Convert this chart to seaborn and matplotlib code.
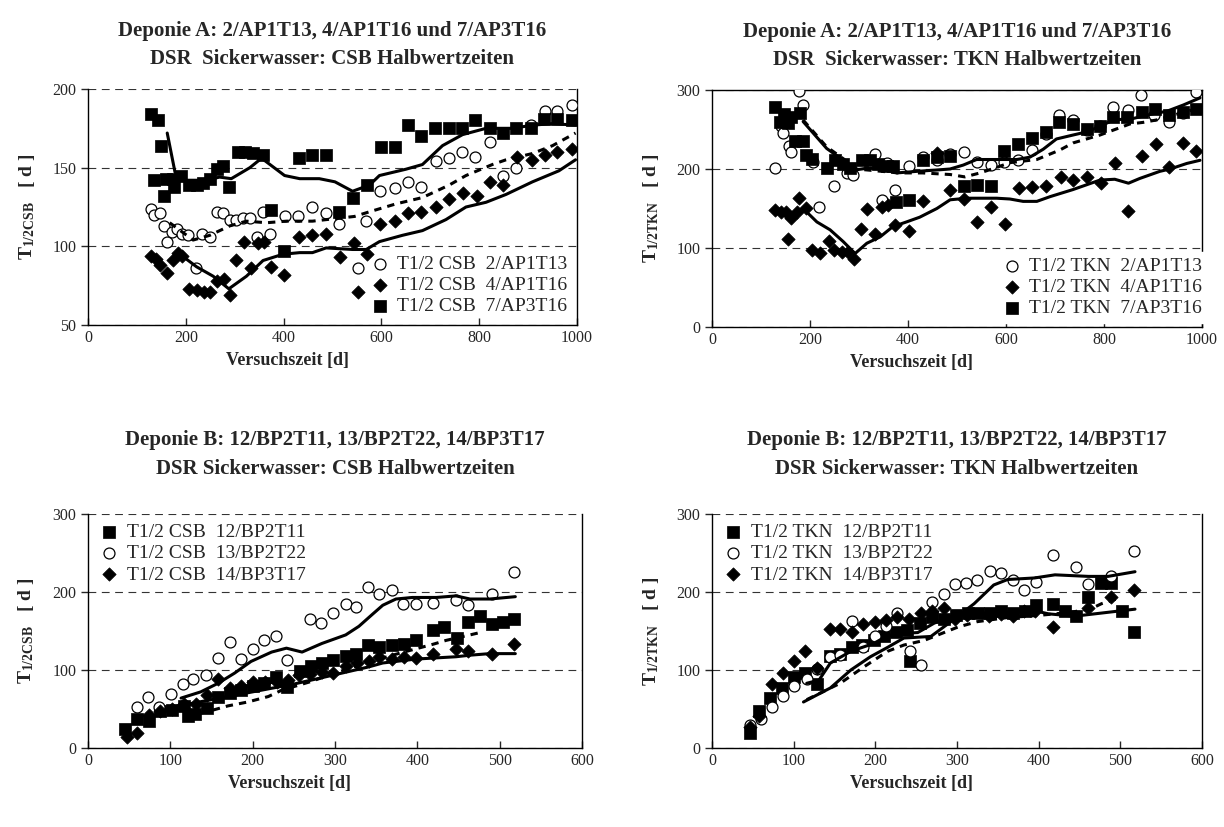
import seaborn as sns
from matplotlib import pyplot as plt
import pandas as pd

# ---- Deponie A, CSB
a_csb_x_2 = [128, 135, 148, 155, 162, 171, 182, 193, 205, 220, 234, 249, 263, 276, 290, 303, 317, 332, 346, 358, 373, 402, 429, 459, 486, 514, 552, 569, 597, 627, 654, 681, 711, 738, 765, 792, 822, 849, 876, 905, 935, 960, 989]
a_csb_y_2 = [124, 120, 121, 113, 103, 109, 111, 108, 107, 86, 108, 106, 122, 121, 117, 117, 118, 118, 106, 122, 108, 119, 119, 125, 121, 114, 86, 116, 135, 137, 141, 138, 154, 156, 160, 157, 166, 145, 150, 177, 186, 186, 190]
a_csb_x_4 = [128, 140, 148, 162, 174, 184, 193, 207, 222, 237, 250, 264, 278, 290, 303, 318, 334, 348, 359, 375, 400, 431, 459, 486, 516, 543, 552, 570, 597, 627, 654, 681, 711, 738, 766, 795, 822, 849, 878, 907, 935, 960, 989]
a_csb_y_4 = [94, 92, 88, 83, 91, 96, 94, 73, 72, 71, 71, 78, 79, 69, 91, 103, 86, 102, 103, 87, 82, 106, 107, 108, 93, 102, 71, 95, 114, 116, 121, 122, 125, 130, 134, 132, 141, 139, 157, 155, 158, 160, 162]
a_csb_x_7 = [128, 143, 149, 135, 160, 174, 190, 155, 176, 207, 222, 235, 249, 263, 276, 288, 307, 322, 337, 358, 375, 400, 431, 459, 486, 514, 541, 570, 599, 627, 654, 681, 710, 738, 765, 792, 822, 849, 876, 905, 933, 960, 989]
a_csb_y_7 = [184, 180, 164, 142, 143, 143, 145, 132, 138, 139, 139, 140, 143, 149, 151, 138, 160, 160, 159, 158, 123, 97, 156, 158, 158, 122, 131, 139, 163, 163, 177, 170, 175, 175, 175, 180, 175, 172, 175, 175, 181, 181, 180]
a_csb_lx_7 = [162, 178, 191, 215, 242, 269, 293, 331, 355, 402, 433, 473, 505, 541, 576, 596, 650, 684, 725, 766, 814, 868, 909, 950, 997]
a_csb_ly_7 = [172, 147, 142, 142, 142, 144, 143, 150, 156, 145, 143, 143, 141, 135, 139, 145, 149, 152, 164, 171, 175, 175, 177, 178, 177]
a_csb_lx_2 = [167, 215, 249, 290, 324, 365, 406, 459, 545, 576, 630, 684, 739, 773, 827, 855, 909, 950, 997]
a_csb_ly_2 = [115, 104, 107, 113, 116, 115, 116, 116, 119, 122, 127, 131, 139, 145, 152, 155, 159, 164, 172]
a_csb_lx_4 = [188, 222, 256, 288, 324, 358, 399, 433, 459, 487, 541, 569, 596, 643, 684, 732, 773, 814, 855, 909, 963, 997]
a_csb_ly_4 = [95, 87, 81, 73, 81, 91, 95, 96, 96, 99, 98, 98, 103, 107, 110, 117, 125, 128, 133, 141, 148, 155]

# ---- Deponie A, TKN
a_tkn_x_2 = [129, 140, 144, 157, 162, 178, 185, 207, 219, 249, 275, 288, 333, 346, 358, 373, 403, 431, 459, 486, 514, 540, 569, 596, 625, 654, 682, 709, 737, 765, 792, 819, 850, 875, 902, 933, 961, 988]
a_tkn_y_2 = [201, 254, 245, 229, 222, 299, 281, 209, 152, 178, 195, 192, 219, 161, 208, 174, 204, 215, 212, 219, 221, 209, 205, 209, 211, 224, 244, 268, 262, 249, 254, 279, 275, 294, 268, 259, 271, 298]
a_tkn_x_4 = [129, 140, 151, 156, 162, 174, 178, 192, 205, 220, 238, 249, 265, 278, 290, 304, 317, 333, 346, 360, 373, 403, 431, 459, 486, 514, 541, 569, 598, 627, 654, 682, 712, 737, 766, 793, 822, 850, 877, 906, 933, 962, 988]
a_tkn_y_4 = [148, 146, 145, 111, 138, 146, 163, 150, 97, 94, 109, 98, 95, 95, 86, 124, 149, 118, 152, 154, 129, 122, 160, 220, 173, 162, 133, 152, 130, 176, 177, 178, 190, 186, 190, 182, 208, 147, 216, 232, 202, 233, 223]
a_tkn_x_7 = [129, 139, 147, 156, 161, 169, 180, 185, 192, 205, 234, 251, 267, 282, 306, 322, 339, 358, 370, 376, 403, 431, 459, 486, 514, 541, 569, 596, 625, 654, 682, 709, 737, 765, 792, 819, 848, 877, 904, 933, 961, 988]
a_tkn_y_7 = [279, 260, 270, 258, 266, 235, 271, 235, 218, 213, 201, 211, 206, 201, 211, 211, 206, 204, 204, 158, 161, 212, 215, 216, 178, 180, 178, 223, 231, 239, 247, 260, 257, 251, 254, 266, 266, 272, 276, 268, 272, 276]
a_tkn_lx_2 = [186, 234, 268, 295, 316, 356, 377, 418, 465, 486, 513, 540, 567, 594, 622, 649, 676, 703, 737, 765, 792, 819, 860, 901, 928, 962, 996]
a_tkn_ly_2 = [260, 226, 211, 199, 201, 200, 195, 197, 199, 200, 205, 212, 212, 212, 212, 215, 225, 238, 243, 247, 254, 262, 264, 270, 273, 281, 290]
a_tkn_lx_7 = [186, 234, 268, 295, 330, 380, 430, 486, 516, 547, 581, 608, 663, 710, 737, 792, 853, 880, 907, 941, 982]
a_tkn_ly_7 = [262, 228, 213, 200, 198, 195, 195, 193, 190, 195, 202, 208, 212, 224, 233, 243, 257, 259, 262, 268, 275]
a_tkn_lx_4 = [186, 214, 241, 268, 292, 316, 343, 369, 397, 424, 459, 486, 520, 547, 581, 608, 635, 663, 690, 737, 792, 822, 850, 873, 914, 935, 969, 996]
a_tkn_ly_4 = [150, 133, 123, 108, 93, 106, 114, 127, 133, 139, 150, 161, 163, 163, 163, 162, 159, 159, 165, 174, 186, 187, 182, 188, 197, 200, 207, 211]

# ---- Deponie B, CSB
b_csb_x_12 = [45, 60, 74, 87, 102, 116, 122, 130, 144, 158, 172, 186, 200, 214, 228, 242, 257, 271, 284, 297, 313, 326, 340, 354, 369, 384, 398, 419, 432, 448, 462, 476, 491, 504, 518]
b_csb_y_12 = [24, 37, 34, 47, 49, 54, 41, 44, 51, 66, 71, 75, 79, 83, 91, 78, 99, 105, 109, 113, 118, 121, 132, 130, 132, 133, 139, 151, 155, 141, 162, 169, 159, 161, 165]
b_csb_x_13 = [60, 73, 86, 101, 115, 128, 143, 158, 173, 186, 200, 214, 228, 242, 270, 283, 298, 313, 326, 340, 354, 369, 382, 398, 419, 447, 462, 491, 518]
b_csb_y_13 = [52, 66, 52, 69, 82, 88, 94, 115, 136, 114, 127, 139, 143, 113, 165, 160, 173, 185, 181, 207, 198, 203, 185, 185, 186, 190, 183, 198, 225]
b_csb_x_14 = [47, 60, 74, 87, 102, 116, 131, 144, 158, 172, 186, 200, 215, 229, 243, 256, 270, 284, 298, 313, 327, 341, 354, 369, 384, 398, 419, 447, 462, 491, 518]
b_csb_y_14 = [14, 19, 42, 47, 50, 56, 56, 68, 88, 77, 79, 85, 84, 84, 87, 94, 95, 98, 96, 105, 109, 112, 117, 114, 117, 116, 121, 127, 125, 121, 133]
b_csb_lx_13 = [113, 137, 158, 178, 198, 223, 241, 260, 284, 313, 329, 345, 358, 374, 394, 423, 447, 464, 488, 519]
b_csb_ly_13 = [64, 72, 83, 96, 111, 123, 128, 123, 134, 145, 156, 171, 183, 191, 193, 193, 195, 191, 191, 194]
b_csb_lx_12 = [120, 153, 170, 194, 219, 235, 270, 300, 340, 380, 419, 435, 464, 480]
b_csb_ly_12 = [40, 49, 54, 59, 66, 74, 85, 96, 110, 122, 133, 138, 145, 149]
b_csb_lx_14 = [100, 150, 200, 250, 300, 341, 358, 398, 447, 464, 488, 519]
b_csb_ly_14 = [52, 62, 72, 82, 94, 104, 109, 114, 117, 119, 121, 121]

# ---- Deponie B, TKN
b_tkn_x_12 = [46, 58, 71, 86, 101, 114, 129, 145, 157, 171, 184, 198, 211, 225, 239, 243, 255, 270, 284, 299, 313, 326, 341, 354, 368, 383, 397, 418, 432, 446, 461, 476, 488, 502, 517]
b_tkn_y_12 = [19, 47, 64, 77, 91, 96, 82, 118, 121, 129, 132, 138, 144, 149, 151, 111, 160, 168, 166, 171, 173, 173, 173, 175, 173, 175, 183, 185, 175, 169, 193, 211, 211, 176, 149]
b_tkn_x_13 = [47, 60, 73, 87, 100, 116, 129, 144, 157, 172, 185, 199, 213, 227, 243, 256, 269, 284, 298, 311, 325, 341, 354, 368, 382, 397, 418, 446, 461, 488, 517]
b_tkn_y_13 = [29, 37, 53, 67, 79, 88, 101, 117, 119, 163, 129, 144, 156, 173, 125, 107, 187, 197, 210, 212, 216, 227, 224, 216, 203, 213, 247, 232, 210, 220, 252]
b_tkn_x_14 = [46, 58, 73, 87, 101, 114, 129, 144, 157, 171, 185, 199, 213, 227, 241, 256, 269, 284, 298, 312, 339, 354, 368, 382, 395, 418, 461, 488, 517]
b_tkn_y_14 = [27, 41, 82, 96, 112, 125, 102, 152, 153, 149, 159, 161, 164, 168, 166, 173, 175, 179, 166, 170, 169, 172, 169, 175, 176, 155, 180, 193, 203]
b_tkn_lx_12 = [116, 131, 145, 170, 198, 215, 235, 252, 272, 293, 313, 350, 395, 412, 444, 477, 518]
b_tkn_ly_12 = [83, 87, 109, 124, 134, 144, 147, 148, 160, 169, 172, 174, 176, 172, 169, 173, 178]
b_tkn_lx_13 = [112, 145, 170, 194, 215, 235, 268, 290, 321, 345, 362, 395, 420, 461, 485, 518]
b_tkn_ly_13 = [59, 77, 100, 117, 129, 141, 143, 160, 185, 209, 216, 218, 222, 220, 220, 226]
b_tkn_lx_14 = [116, 157, 186, 215, 235, 260, 301, 325, 360, 400, 440, 465, 477, 498]
b_tkn_ly_14 = [62, 83, 104, 124, 132, 138, 155, 162, 167, 170, 174, 179, 185, 192]

sb = sns
sb.set_style('white')
plt.rcParams['font.family'] = ['Liberation Serif', 'DejaVu Serif']
plt.rcParams['mathtext.fontset'] = 'custom'
plt.rcParams['mathtext.rm'] = 'Liberation Serif'
plt.rcParams['mathtext.bf'] = 'Liberation Serif:bold'

MK = {'o': dict(marker='o', s=62, color='white', edgecolor='black', linewidth=0.9),
      'D': dict(marker='D', s=46, color='black', edgecolor='black', linewidth=0.5),
      's': dict(marker='s', s=72, color='black', edgecolor='black', linewidth=0.5)}


def points(ax, x, y, m, label):
    df = pd.DataFrame({'x': x, 'y': y})
    sb.scatterplot(data=df, x='x', y='y', ax=ax, label=label, zorder=3, **MK[m])


def trend(ax, x, y, dashed=False):
    df = pd.DataFrame({'x': x, 'y': y})
    sb.lineplot(data=df, x='x', y='y', ax=ax, color='black', lw=2.2,
                estimator=None, legend=False, zorder=4)
    if dashed:
        ax.lines[-1].set_linestyle((0, (2.4, 2.0)))


def style(ax, title, ylab, xmax, xstep, ymin, ymax, ystep, pad, top_dashed=True):
    ax.set_xlim(0, xmax)
    ax.set_ylim(ymin, ymax)
    ax.set_xticks(range(0, xmax + 1, xstep))
    ax.set_yticks(range(ymin, ymax + 1, ystep))
    ax.yaxis.grid(True, linestyle=(0, (7, 5)), color='#333333', lw=0.8)
    ax.set_axisbelow(True)
    for s in ax.spines.values():
        s.set_color('black')
        s.set_linewidth(1.0)
    if top_dashed:
        ax.spines['top'].set_visible(False)
    ax.tick_params(axis='y', direction='out', length=5, width=1, labelsize=11.5, left=True)
    ax.tick_params(axis='x', direction='in', length=5, width=1, labelsize=11.5, bottom=True)
    ax.set_title(title, fontsize=15, fontweight='bold', linespacing=1.55, pad=pad)
    ax.set_xlabel('Versuchszeit [d]', fontsize=13, fontweight='bold')
    ax.xaxis.set_label_coords(0.407, -0.15)
    ax.xaxis.label.set_va('center')
    ax.set_ylabel(ylab, fontsize=14, fontweight='bold')
    ax.yaxis.set_label_coords(-0.125, 0.5)
    ax.yaxis.label.set_va('center')


fig = plt.figure(figsize=(12.24, 8.27), dpi=100)
ax1 = fig.add_axes([0.0719, 0.607, 0.3995, 0.2854])
ax2 = fig.add_axes([0.5817, 0.6046, 0.4003, 0.2866])
ax3 = fig.add_axes([0.0719, 0.0955, 0.4036, 0.283])
ax4 = fig.add_axes([0.5817, 0.0955, 0.4003, 0.283])

lab_csb = r'$\mathbf{T_{1/2CSB}}$   [ d ]'
lab_tkn = r'$\mathbf{T_{1/2TKN}}$   [ d ]'
leg_kw = dict(fontsize=14, handletextpad=0.3, labelspacing=0.18, borderpad=0.3,
              borderaxespad=0.2, handlelength=1.2, markerscale=1.0)

# subplot 1
points(ax1, a_csb_x_2, a_csb_y_2, 'o', 'T1/2 CSB  2/AP1T13')
points(ax1, a_csb_x_4, a_csb_y_4, 'D', 'T1/2 CSB  4/AP1T16')
points(ax1, a_csb_x_7, a_csb_y_7, 's', 'T1/2 CSB  7/AP3T16')
trend(ax1, a_csb_lx_7, a_csb_ly_7)
trend(ax1, a_csb_lx_2, a_csb_ly_2, dashed=True)
trend(ax1, a_csb_lx_4, a_csb_ly_4)
style(ax1, 'Deponie A: 2/AP1T13, 4/AP1T16 und 7/AP3T16\nDSR  Sickerwasser: CSB Halbwertzeiten',
      lab_csb, 1000, 200, 50, 200, 50, pad=18)
ax1.legend(loc='lower right', bbox_to_anchor=(1.0, 0.0), frameon=False, **leg_kw)

# subplot 2
points(ax2, a_tkn_x_2, a_tkn_y_2, 'o', 'T1/2 TKN  2/AP1T13')
points(ax2, a_tkn_x_4, a_tkn_y_4, 'D', 'T1/2 TKN  4/AP1T16')
points(ax2, a_tkn_x_7, a_tkn_y_7, 's', 'T1/2 TKN  7/AP3T16')
trend(ax2, a_tkn_lx_2, a_tkn_ly_2)
trend(ax2, a_tkn_lx_7, a_tkn_ly_7, dashed=True)
trend(ax2, a_tkn_lx_4, a_tkn_ly_4)
style(ax2, 'Deponie A: 2/AP1T13, 4/AP1T16 und 7/AP3T16\nDSR  Sickerwasser: TKN Halbwertzeiten',
      lab_tkn, 1000, 200, 0, 300, 100, pad=18, top_dashed=False)
lg = ax2.legend(loc='lower right', bbox_to_anchor=(1.02, 0.0), frameon=True, fancybox=False,
                framealpha=1, facecolor='white', edgecolor='white', **leg_kw)
lg.set_zorder(10)

# subplot 3
points(ax3, b_csb_x_12, b_csb_y_12, 's', 'T1/2 CSB  12/BP2T11')
points(ax3, b_csb_x_13, b_csb_y_13, 'o', 'T1/2 CSB  13/BP2T22')
points(ax3, b_csb_x_14, b_csb_y_14, 'D', 'T1/2 CSB  14/BP3T17')
trend(ax3, b_csb_lx_13, b_csb_ly_13)
trend(ax3, b_csb_lx_12, b_csb_ly_12, dashed=True)
trend(ax3, b_csb_lx_14, b_csb_ly_14)
style(ax3, 'Deponie B: 12/BP2T11, 13/BP2T22, 14/BP3T17\nDSR Sickerwasser: CSB Halbwertzeiten',
      lab_csb, 600, 100, 0, 300, 100, pad=29)
ax3.legend(loc='upper left', bbox_to_anchor=(0.0, 1.0), frameon=False, **leg_kw)

# subplot 4
points(ax4, b_tkn_x_12, b_tkn_y_12, 's', 'T1/2 TKN  12/BP2T11')
points(ax4, b_tkn_x_13, b_tkn_y_13, 'o', 'T1/2 TKN  13/BP2T22')
points(ax4, b_tkn_x_14, b_tkn_y_14, 'D', 'T1/2 TKN  14/BP3T17')
trend(ax4, b_tkn_lx_12, b_tkn_ly_12)
trend(ax4, b_tkn_lx_13, b_tkn_ly_13)
trend(ax4, b_tkn_lx_14, b_tkn_ly_14, dashed=True)
style(ax4, 'Deponie B: 12/BP2T11, 13/BP2T22, 14/BP3T17\nDSR Sickerwasser: TKN Halbwertzeiten',
      lab_tkn, 600, 100, 0, 300, 100, pad=29)
ax4.legend(loc='upper left', bbox_to_anchor=(0.0, 1.0), frameon=False, **leg_kw)

fig.savefig('out.png', dpi=100)
